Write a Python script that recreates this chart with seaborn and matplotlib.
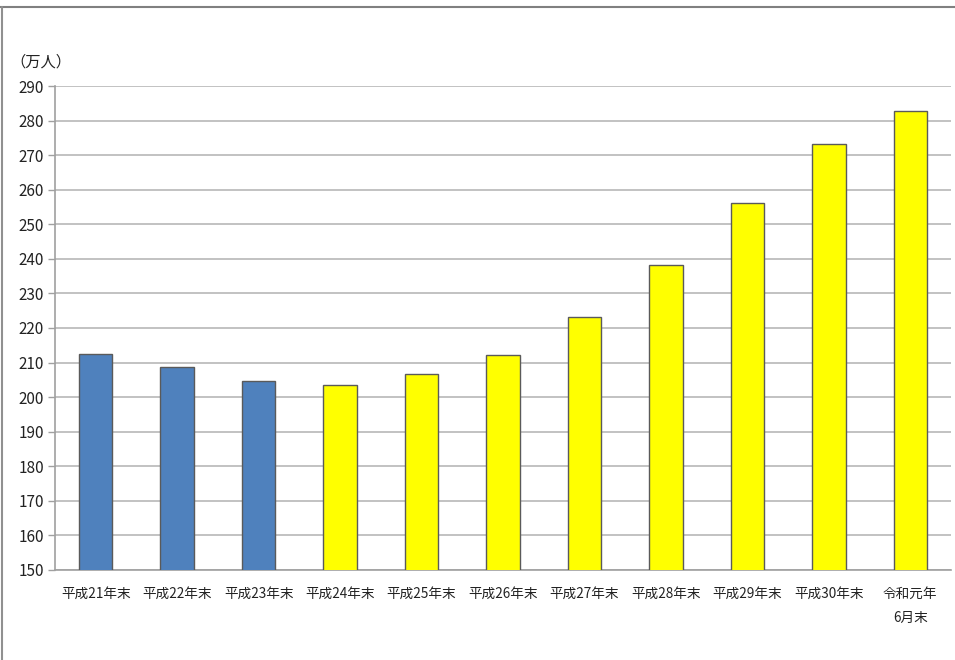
import matplotlib
matplotlib.use("Agg")
import matplotlib.pyplot as plt
from matplotlib.lines import Line2D
import seaborn as sns
import pandas as pd
import numpy as np

# data (万人)
periods = ["平成21年末", "平成22年末", "平成23年末", "平成24年末", "平成25年末",
           "平成26年末", "平成27年末", "平成28年末", "平成29年末", "平成30年末",
           "令和元年\n6月末"]
residents = [212.6, 208.7, 204.7, 203.4, 206.6, 212.2, 223.2, 238.3, 256.2, 273.1, 282.9]
group = ["old", "old", "old", "new", "new", "new", "new", "new", "new", "new", "new"]
yticks = list(range(150, 300, 10))

sns.set_style("white")
plt.rcParams['font.family'] = ['Noto Sans CJK JP', 'DejaVu Sans']

df = pd.DataFrame({"period": periods, "value": residents, "group": group})

fig = plt.figure(figsize=(9.55, 6.6), dpi=100)
ax = fig.add_axes([55 / 955, 90 / 660, 896 / 955, 484 / 660])

sns.barplot(data=df, x="period", y="value", hue="group", dodge=False,
            palette={"old": "#4F81BD", "new": "#FFFF00"}, saturation=1, width=0.41,
            edgecolor="#5a5a5a", linewidth=1.0, legend=False, ax=ax, zorder=3)

ax.set_ylim(150, 290)
ax.set_xlim(-0.5, len(periods) - 0.5)
ax.set_yticks(yticks)
ax.set_yticklabels([str(t) for t in yticks], fontsize=11, color="#222222")
ax.grid(axis="y", color="#b8b8b8", linewidth=1.2, zorder=0)
ax.set_axisbelow(True)

# category labels at centers, tick marks at boundaries
ax.set_xticks(range(len(periods)))
ax.set_xticklabels(periods, fontsize=9.8, color="#222222", linespacing=1.9)
ax.tick_params(axis="x", which="major", length=0, pad=12)
ax.set_xticks(np.arange(-0.5, len(periods), 1.0), minor=True)
ax.tick_params(axis="x", which="minor", length=5, color="#a0a0a0", width=1)
ax.tick_params(axis="y", length=5, color="#a0a0a0", width=1, pad=3, left=True)

ax.set_xlabel("")
ax.set_ylabel("")
for side in ["top", "right"]:
    ax.spines[side].set_visible(False)
for side in ["left", "bottom"]:
    ax.spines[side].set_color("#a0a0a0")
    ax.spines[side].set_linewidth(1.2)

fig.text(10 / 955, 1 - 62 / 660, "（万人）", fontsize=11, va="center", ha="left", color="#222222")

# outer frame (top and left)
fig.add_artist(Line2D([0, 1], [1 - 7 / 660, 1 - 7 / 660], color="#808080", linewidth=1.5))
fig.add_artist(Line2D([1.5 / 955, 1.5 / 955], [0, 1 - 7 / 660], color="#909090", linewidth=1.5))

fig.savefig("out.png", dpi=100)
